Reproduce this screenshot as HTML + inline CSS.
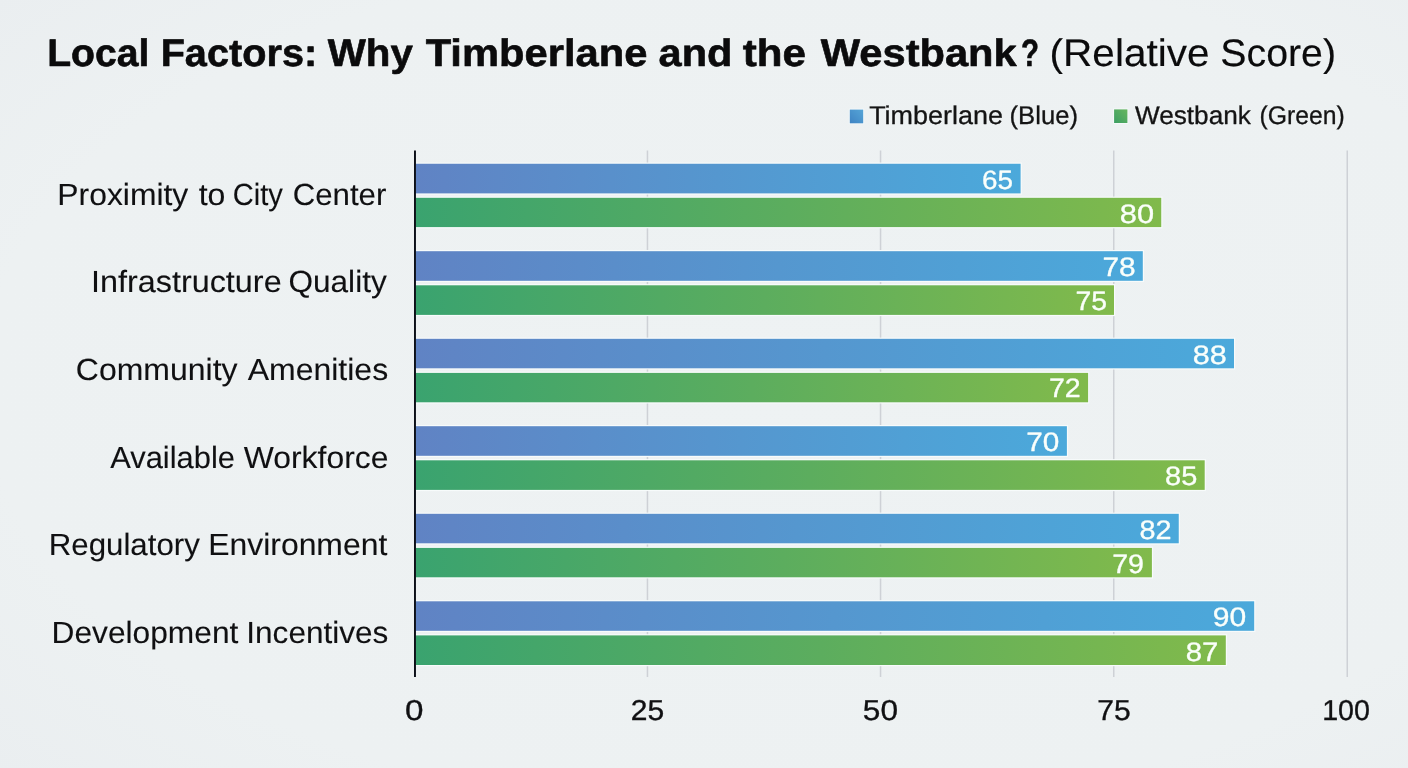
<!DOCTYPE html>
<html><head><meta charset="utf-8"><title>Local Factors</title>
<style>html,body{margin:0;padding:0;background:#eef1f2;}body{width:1408px;height:768px;overflow:hidden;font-family:"Liberation Sans",sans-serif;}svg{display:block;}</style>
</head><body>
<svg width="1408" height="768" viewBox="0 0 1408 768" font-family="'Liberation Sans', sans-serif">
<defs>
<radialGradient id="bg" cx="55%" cy="50%" r="75%"><stop offset="0" stop-color="#eef2f3"/><stop offset="0.75" stop-color="#edf1f2"/><stop offset="1" stop-color="#eaeef0"/></radialGradient>
<linearGradient id="gb" x1="0" y1="0" x2="1" y2="0"><stop offset="0" stop-color="#6083c4"/><stop offset="0.5" stop-color="#5597cf"/><stop offset="1" stop-color="#4ba9db"/></linearGradient>
<linearGradient id="gg" x1="0" y1="0" x2="1" y2="0"><stop offset="0" stop-color="#3aa36f"/><stop offset="0.5" stop-color="#5cad5e"/><stop offset="1" stop-color="#81ba4b"/></linearGradient>
<linearGradient id="lb" x1="1" y1="0" x2="0" y2="1"><stop offset="0" stop-color="#56a5d7"/><stop offset="1" stop-color="#3e83c3"/></linearGradient>
<linearGradient id="lg" x1="1" y1="0" x2="0" y2="1"><stop offset="0" stop-color="#67b65f"/><stop offset="1" stop-color="#3c9e63"/></linearGradient>
</defs>
<rect width="1408" height="768" fill="url(#bg)"/>
<rect x="646.70" y="150.5" width="1.5" height="526.5" fill="#ced1d6"/>
<rect x="879.80" y="150.5" width="1.5" height="526.5" fill="#ced1d6"/>
<rect x="1113.00" y="150.5" width="1.5" height="526.5" fill="#ced1d6"/>
<rect x="1346.50" y="150.5" width="1.5" height="526.5" fill="#ced1d6"/>
<rect x="415.6" y="162.55" width="606.20" height="32.05" fill="#f7fbfb"/>
<rect x="415.6" y="196.60" width="746.85" height="31.70" fill="#f7fbfb"/>
<rect x="415.6" y="163.75" width="605.00" height="29.65" fill="url(#gb)"/>
<rect x="415.6" y="197.80" width="745.65" height="29.30" fill="url(#gg)"/>
<rect x="415.6" y="250.00" width="728.40" height="32.00" fill="#f7fbfb"/>
<rect x="415.6" y="284.10" width="699.60" height="32.00" fill="#f7fbfb"/>
<rect x="415.6" y="251.20" width="727.20" height="29.60" fill="url(#gb)"/>
<rect x="415.6" y="285.30" width="698.40" height="29.60" fill="url(#gg)"/>
<rect x="415.6" y="337.60" width="819.60" height="31.90" fill="#f7fbfb"/>
<rect x="415.6" y="371.70" width="673.70" height="31.80" fill="#f7fbfb"/>
<rect x="415.6" y="338.80" width="818.40" height="29.50" fill="url(#gb)"/>
<rect x="415.6" y="372.90" width="672.50" height="29.40" fill="url(#gg)"/>
<rect x="415.6" y="425.00" width="652.50" height="32.00" fill="#f7fbfb"/>
<rect x="415.6" y="459.10" width="790.30" height="32.00" fill="#f7fbfb"/>
<rect x="415.6" y="426.20" width="651.30" height="29.60" fill="url(#gb)"/>
<rect x="415.6" y="460.30" width="789.10" height="29.60" fill="url(#gg)"/>
<rect x="415.6" y="512.60" width="764.35" height="31.90" fill="#f7fbfb"/>
<rect x="415.6" y="546.70" width="737.50" height="31.80" fill="#f7fbfb"/>
<rect x="415.6" y="513.80" width="763.15" height="29.50" fill="url(#gb)"/>
<rect x="415.6" y="547.90" width="736.30" height="29.40" fill="url(#gg)"/>
<rect x="415.6" y="600.10" width="839.80" height="31.90" fill="#f7fbfb"/>
<rect x="415.6" y="634.20" width="811.40" height="32.00" fill="#f7fbfb"/>
<rect x="415.6" y="601.30" width="838.60" height="29.50" fill="url(#gb)"/>
<rect x="415.6" y="635.40" width="810.20" height="29.60" fill="url(#gg)"/>
<rect x="414" y="150.5" width="1.95" height="526.5" fill="#0b0f18"/>
<rect x="848.9" y="108.7" width="15.2" height="15.5" fill="#f5f9fa"/><rect x="849.8" y="109.6" width="13.4" height="13.7" fill="url(#lb)"/>
<rect x="1113.2" y="108.5" width="15.1" height="15.4" fill="#f5f9fa"/><rect x="1114.1" y="109.4" width="13.3" height="13.6" fill="url(#lg)"/>
<g style="opacity:0.999;text-rendering:geometricPrecision">
<text transform="translate(47.16 66.00) scale(1.0194 1)" font-size="38.4" font-weight="700" fill="#0b0b0c" stroke="#0b0b0c" stroke-width="0.6" stroke-linejoin="round">Local</text>
<text transform="translate(160.63 66.00) scale(1.0336 1)" font-size="38.4" font-weight="700" fill="#0b0b0c" stroke="#0b0b0c" stroke-width="0.6" stroke-linejoin="round">Factors:</text>
<text transform="translate(327.72 66.00) scale(1.0512 1)" font-size="38.4" font-weight="700" fill="#0b0b0c" stroke="#0b0b0c" stroke-width="0.6" stroke-linejoin="round">Why</text>
<text transform="translate(425.66 66.00) scale(1.0859 1)" font-size="38.4" font-weight="700" fill="#0b0b0c" stroke="#0b0b0c" stroke-width="0.6" stroke-linejoin="round">Timberlane</text>
<text transform="translate(658.58 66.00) scale(1.0812 1)" font-size="38.4" font-weight="700" fill="#0b0b0c" stroke="#0b0b0c" stroke-width="0.6" stroke-linejoin="round">and</text>
<text transform="translate(742.80 66.00) scale(1.0979 1)" font-size="38.4" font-weight="700" fill="#0b0b0c" stroke="#0b0b0c" stroke-width="0.6" stroke-linejoin="round">the</text>
<text transform="translate(820.73 66.00) scale(1.0851 1)" font-size="38.4" font-weight="700" fill="#0b0b0c" stroke="#0b0b0c" stroke-width="0.6" stroke-linejoin="round">Westbank</text>
<text transform="translate(1021.11 66.00) scale(0.7666 1)" font-size="38.4" font-weight="700" fill="#0b0b0c" stroke="#0b0b0c" stroke-width="0.6" stroke-linejoin="round">?</text>
<text transform="translate(1049.54 66.00) scale(1.0569 1)" font-size="38.4" font-weight="400" fill="#0b0b0c" stroke="#0b0b0c" stroke-width="0.15" stroke-linejoin="round">(Relative</text>
<text transform="translate(1220.31 66.00) scale(1.0233 1)" font-size="38.4" font-weight="400" fill="#0b0b0c" stroke="#0b0b0c" stroke-width="0.15" stroke-linejoin="round">Score)</text>
<text transform="translate(869.15 124.00) scale(1.0538 1)" font-size="25.6" font-weight="400" fill="#141414" stroke="#141414" stroke-width="0.3" stroke-linejoin="round">Timberlane</text>
<text transform="translate(1009.55 124.00) scale(1.0023 1)" font-size="25.6" font-weight="400" fill="#141414" stroke="#141414" stroke-width="0.3" stroke-linejoin="round">(Blue)</text>
<text transform="translate(1134.92 124.00) scale(1.0236 1)" font-size="25.6" font-weight="400" fill="#141414" stroke="#141414" stroke-width="0.3" stroke-linejoin="round">Westbank</text>
<text transform="translate(1259.50 124.00) scale(0.9665 1)" font-size="25.6" font-weight="400" fill="#141414" stroke="#141414" stroke-width="0.3" stroke-linejoin="round">(Green)</text>
<text transform="translate(57.32 205.00) scale(1.0410 1)" font-size="30.6" font-weight="400" fill="#101012" stroke="#101012" stroke-width="0.1" stroke-linejoin="round">Proximity</text>
<text transform="translate(198.67 205.00) scale(1.0464 1)" font-size="30.6" font-weight="400" fill="#101012" stroke="#101012" stroke-width="0.1" stroke-linejoin="round">to</text>
<text transform="translate(232.79 205.00) scale(0.9511 1)" font-size="30.6" font-weight="400" fill="#101012" stroke="#101012" stroke-width="0.1" stroke-linejoin="round">City</text>
<text transform="translate(292.69 205.00) scale(1.0199 1)" font-size="30.6" font-weight="400" fill="#101012" stroke="#101012" stroke-width="0.1" stroke-linejoin="round">Center</text>
<text transform="translate(90.96 292.00) scale(1.0579 1)" font-size="30.6" font-weight="400" fill="#101012" stroke="#101012" stroke-width="0.1" stroke-linejoin="round">Infrastructure</text>
<text transform="translate(288.45 292.00) scale(1.0318 1)" font-size="30.6" font-weight="400" fill="#101012" stroke="#101012" stroke-width="0.1" stroke-linejoin="round">Quality</text>
<text transform="translate(75.85 380.00) scale(1.0453 1)" font-size="30.6" font-weight="400" fill="#101012" stroke="#101012" stroke-width="0.1" stroke-linejoin="round">Community</text>
<text transform="translate(247.67 380.00) scale(1.0459 1)" font-size="30.6" font-weight="400" fill="#101012" stroke="#101012" stroke-width="0.1" stroke-linejoin="round">Amenities</text>
<text transform="translate(110.17 468.00) scale(1.0102 1)" font-size="30.6" font-weight="400" fill="#101012" stroke="#101012" stroke-width="0.1" stroke-linejoin="round">Available</text>
<text transform="translate(243.79 468.00) scale(1.0415 1)" font-size="30.6" font-weight="400" fill="#101012" stroke="#101012" stroke-width="0.1" stroke-linejoin="round">Workforce</text>
<text transform="translate(48.72 555.00) scale(1.0213 1)" font-size="30.6" font-weight="400" fill="#101012" stroke="#101012" stroke-width="0.1" stroke-linejoin="round">Regulatory</text>
<text transform="translate(208.22 555.00) scale(1.0426 1)" font-size="30.6" font-weight="400" fill="#101012" stroke="#101012" stroke-width="0.1" stroke-linejoin="round">Environment</text>
<text transform="translate(51.54 643.00) scale(1.0363 1)" font-size="30.6" font-weight="400" fill="#101012" stroke="#101012" stroke-width="0.1" stroke-linejoin="round">Development</text>
<text transform="translate(246.34 643.00) scale(1.0300 1)" font-size="30.6" font-weight="400" fill="#101012" stroke="#101012" stroke-width="0.1" stroke-linejoin="round">Incentives</text>
<text transform="translate(981.89 189.00) scale(1.0480 1)" font-size="26.6" font-weight="400" fill="#fbfffb" stroke="#fbfffb" stroke-width="0.35" stroke-linejoin="round">65</text>
<text transform="translate(1119.79 223.00) scale(1.1568 1)" font-size="26.6" font-weight="400" fill="#fbfffb" stroke="#fbfffb" stroke-width="0.35" stroke-linejoin="round">80</text>
<text transform="translate(1102.45 276.00) scale(1.1216 1)" font-size="26.6" font-weight="400" fill="#fbfffb" stroke="#fbfffb" stroke-width="0.35" stroke-linejoin="round">78</text>
<text transform="translate(1075.47 310.00) scale(1.0662 1)" font-size="26.6" font-weight="400" fill="#fbfffb" stroke="#fbfffb" stroke-width="0.35" stroke-linejoin="round">75</text>
<text transform="translate(1192.80 364.00) scale(1.1479 1)" font-size="26.6" font-weight="400" fill="#fbfffb" stroke="#fbfffb" stroke-width="0.35" stroke-linejoin="round">88</text>
<text transform="translate(1048.96 397.00) scale(1.0729 1)" font-size="26.6" font-weight="400" fill="#fbfffb" stroke="#fbfffb" stroke-width="0.35" stroke-linejoin="round">72</text>
<text transform="translate(1026.21 451.00) scale(1.1180 1)" font-size="26.6" font-weight="400" fill="#fbfffb" stroke="#fbfffb" stroke-width="0.35" stroke-linejoin="round">70</text>
<text transform="translate(1165.06 485.00) scale(1.0892 1)" font-size="26.6" font-weight="400" fill="#fbfffb" stroke="#fbfffb" stroke-width="0.35" stroke-linejoin="round">85</text>
<text transform="translate(1139.46 539.00) scale(1.0833 1)" font-size="26.6" font-weight="400" fill="#fbfffb" stroke="#fbfffb" stroke-width="0.35" stroke-linejoin="round">82</text>
<text transform="translate(1112.16 573.00) scale(1.0750 1)" font-size="26.6" font-weight="400" fill="#fbfffb" stroke="#fbfffb" stroke-width="0.35" stroke-linejoin="round">79</text>
<text transform="translate(1212.87 626.00) scale(1.1298 1)" font-size="26.6" font-weight="400" fill="#fbfffb" stroke="#fbfffb" stroke-width="0.35" stroke-linejoin="round">90</text>
<text transform="translate(1185.65 661.00) scale(1.1016 1)" font-size="26.6" font-weight="400" fill="#fbfffb" stroke="#fbfffb" stroke-width="0.35" stroke-linejoin="round">87</text>
<text transform="translate(405.12 720.00) scale(1.1523 1)" font-size="28.8" font-weight="400" fill="#101012" stroke="#101012" stroke-width="0.35" stroke-linejoin="round">0</text>
<text transform="translate(630.68 720.00) scale(1.0429 1)" font-size="28.8" font-weight="400" fill="#101012" stroke="#101012" stroke-width="0.35" stroke-linejoin="round">25</text>
<text transform="translate(862.83 720.00) scale(1.0969 1)" font-size="28.8" font-weight="400" fill="#101012" stroke="#101012" stroke-width="0.35" stroke-linejoin="round">50</text>
<text transform="translate(1097.18 720.00) scale(1.0462 1)" font-size="28.8" font-weight="400" fill="#101012" stroke="#101012" stroke-width="0.35" stroke-linejoin="round">75</text>
<text transform="translate(1322.13 720.00) scale(0.9948 1)" font-size="28.8" font-weight="400" fill="#101012" stroke="#101012" stroke-width="0.35" stroke-linejoin="round">100</text>
</g>
</svg>
</body></html>
